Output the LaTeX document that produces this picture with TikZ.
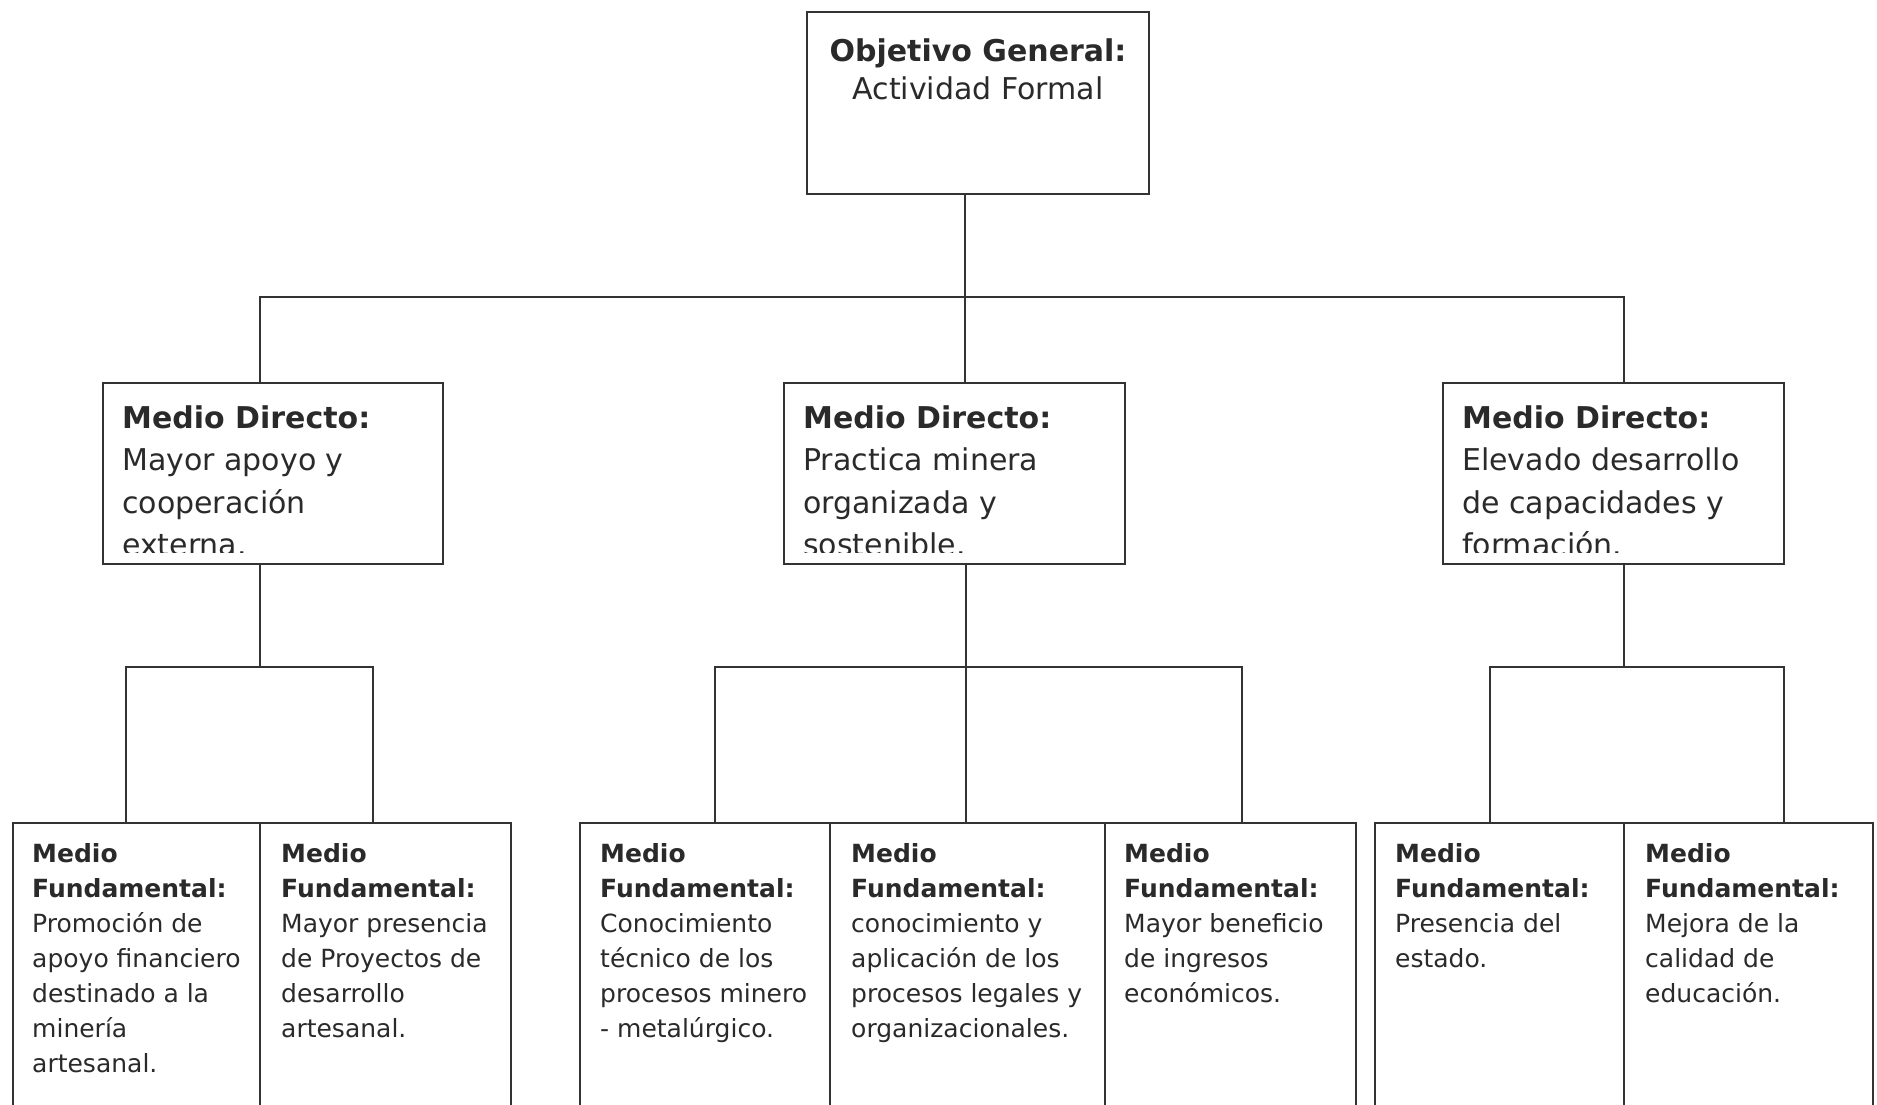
\documentclass[tikz,border=0pt]{standalone}
\usepackage{fontspec}
\setmainfont{DejaVu Sans}
\definecolor{linecol}{HTML}{333333}
\definecolor{txtcol}{HTML}{2A2A2A}
\begin{document}
\begin{tikzpicture}[x=1pt,y=-1pt,
  box/.style={draw=linecol, line width=2.5pt, inner sep=0pt, outer sep=0pt, anchor=north west},
  conn/.style={draw=linecol, line width=2.5pt},
  toptext/.style={anchor=north, inner sep=0pt, align=center, text=txtcol, font=\fontsize{30}{38}\selectfont},
  midtext/.style={anchor=north west, inner sep=0pt, align=left, text=txtcol, font=\fontsize{30}{42.5}\selectfont},
  bottext/.style={anchor=north west, inner sep=0pt, align=left, text=txtcol, font=\fontsize{25}{35}\selectfont}]
\useasboundingbox (0,0) rectangle (1877,1104);
\fill[white] (0,0) rectangle (1877,1104);
\clip (0,0) rectangle (1877,1104);

% top box
\node[box, minimum width=342pt, minimum height=182pt] (obj) at (807,12) {};
\node[toptext] (objt) at (978,37) {\rule{0pt}{24pt}{\bfseries Objetivo General:}\\Actividad Formal};

% middle boxes
\node[box, minimum width=340pt, minimum height=181pt] (md1) at (103,383) {};
\node[box, minimum width=341pt, minimum height=181pt] (md2) at (784,383) {};
\node[box, minimum width=341pt, minimum height=181pt] (md3) at (1443,383) {};

\begin{scope}
\clip (md1.north west) rectangle ([yshift=12pt]md1.south east);
\node[midtext] (md1t) at (122,404) {\rule{0pt}{24pt}{\bfseries Medio Directo:}\\Mayor apoyo y\\cooperación\\externa.};
\end{scope}
\begin{scope}
\clip (md2.north west) rectangle ([yshift=12pt]md2.south east);
\node[midtext] (md2t) at (803,404) {\rule{0pt}{24pt}{\bfseries Medio Directo:}\\Practica minera\\organizada y\\sostenible.};
\end{scope}
\begin{scope}
\clip (md3.north west) rectangle ([yshift=12pt]md3.south east);
\node[midtext] (md3t) at (1462,404) {\rule{0pt}{24pt}{\bfseries Medio Directo:}\\Elevado desarrollo\\de capacidades y\\formación.};
\end{scope}

% bottom boxes
\node[box, minimum width=247pt, minimum height=300pt] (mf1) at (13,823) {};
\node[box, minimum width=251pt, minimum height=300pt] (mf2) at (260,823) {};
\node[box, minimum width=250pt, minimum height=300pt] (mf3) at (580,823) {};
\node[box, minimum width=275pt, minimum height=300pt] (mf4) at (830,823) {};
\node[box, minimum width=251pt, minimum height=300pt] (mf5) at (1105,823) {};
\node[box, minimum width=249pt, minimum height=300pt] (mf6) at (1375,823) {};
\node[box, minimum width=249pt, minimum height=300pt] (mf7) at (1624,823) {};

\node[bottext] (mf1t) at (32,842) {\rule{0pt}{20pt}{\bfseries Medio}\\{\bfseries Fundamental:}\\Promoción de\\apoyo financiero\\destinado a la\\minería\\artesanal.};
\node[bottext] (mf2t) at (281,842) {\rule{0pt}{20pt}{\bfseries Medio}\\{\bfseries Fundamental:}\\Mayor presencia\\de Proyectos de\\desarrollo\\artesanal.};
\node[bottext] (mf3t) at (600,842) {\rule{0pt}{20pt}{\bfseries Medio}\\{\bfseries Fundamental:}\\Conocimiento\\técnico de los\\procesos minero\\- metalúrgico.};
\node[bottext] (mf4t) at (851,842) {\rule{0pt}{20pt}{\bfseries Medio}\\{\bfseries Fundamental:}\\conocimiento y\\aplicación de los\\procesos legales y\\organizacionales.};
\node[bottext] (mf5t) at (1124,842) {\rule{0pt}{20pt}{\bfseries Medio}\\{\bfseries Fundamental:}\\Mayor beneficio\\de ingresos\\económicos.};
\node[bottext] (mf6t) at (1395,842) {\rule{0pt}{20pt}{\bfseries Medio}\\{\bfseries Fundamental:}\\Presencia del\\estado.};
\node[bottext] (mf7t) at (1645,842) {\rule{0pt}{20pt}{\bfseries Medio}\\{\bfseries Fundamental:}\\Mejora de la\\calidad de\\educación.};

% junction coordinates
\coordinate (t0) at (965,297);
\coordinate (jL) at (260,297);
\coordinate (jR) at (1624,297);
\coordinate (kL) at (260,667);
\coordinate (kR) at (1624,667);
\coordinate (b1) at (126,667);
\coordinate (b2) at (373,667);
\coordinate (b3) at (715,667);
\coordinate (b4) at (966,667);
\coordinate (b5) at (1242,667);
\coordinate (b6) at (1490,667);
\coordinate (b7) at (1784,667);

% connectors
\draw[conn] (t0 |- obj.south) -- (t0 |- md2.north);
\draw[conn] (jL |- md1.north) -- (jL) -- (jR) -- (jR |- md3.north);
\draw[conn] (kL |- md1.south) -- (kL);
\draw[conn] (b1 |- mf1.north) -- (b1) -- (b2) -- (b2 |- mf2.north);
\draw[conn] (b4 |- md2.south) -- (b4 |- mf4.north);
\draw[conn] (b3 |- mf3.north) -- (b3) -- (b5) -- (b5 |- mf5.north);
\draw[conn] (kR |- md3.south) -- (kR);
\draw[conn] (b6 |- mf6.north) -- (b6) -- (b7) -- (b7 |- mf7.north);
\end{tikzpicture}
\end{document}
